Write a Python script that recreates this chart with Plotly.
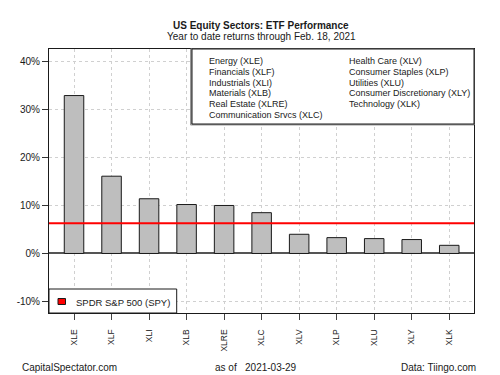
import plotly.graph_objects as go

tickers = ["XLE", "XLF", "XLI", "XLB", "XLRE", "XLC", "XLV", "XLP", "XLU", "XLY", "XLK"]
returns = [32.9, 16.1, 11.4, 10.2, 10.0, 8.5, 4.0, 3.3, 3.1, 2.9, 1.7]
spy_return = 6.3
y_ticks = [-10, 0, 10, 20, 30, 40]
y_tick_labels = ["-10%", "0%", "10%", "20%", "30%", "40%"]
legend_col1 = ["Energy (XLE)", "Financials (XLF)", "Industrials (XLI)", "Materials (XLB)",
               "Real Estate (XLRE)", "Communication Srvcs (XLC)"]
legend_col2 = ["Health Care (XLV)", "Consumer Staples (XLP)", "Utilities (XLU)",
               "Consumer Discretionary (XLY)", "Technology (XLK)"]

FONT = "Liberation Sans, Arial, sans-serif"
W, H = 500, 375
L, R, T, B = 49, 26, 49, 62
PW, PH = W - L - R, H - T - B

def px(x):
    return (x - L) / PW

def py(y):
    return (H - B - y) / PH

fig = go.Figure()
fig.add_trace(go.Bar(
    x=tickers, y=returns, width=0.52,
    marker=dict(color="#bebebe", line=dict(color="#1a1a1a", width=1)),
    showlegend=False, hoverinfo="skip",
))

shapes = []
shapes.append(dict(type="line", xref="paper", yref="y", x0=0, x1=1,
                   y0=spy_return, y1=spy_return, line=dict(color="#ff0000", width=2), layer="above"))
shapes.append(dict(type="rect", xref="paper", yref="paper", x0=px(190.5), x1=px(474), y0=py(125), y1=1,
                   line=dict(color="#999999", width=1), fillcolor="#999999", layer="above"))
shapes.append(dict(type="rect", xref="paper", yref="paper", x0=px(192), x1=1, y0=py(124), y1=1,
                   line=dict(color="#1a1a1a", width=1), fillcolor="white", layer="above"))
shapes.append(dict(type="rect", xref="paper", yref="paper", x0=0, x1=px(176.7), y0=0, y1=py(289),
                   line=dict(color="#1a1a1a", width=1), fillcolor="white", layer="above"))
shapes.append(dict(type="rect", xref="paper", yref="paper", x0=px(58), x1=px(65.5), y0=py(304.5), y1=py(298.5),
                   line=dict(color="#1a1a1a", width=1), fillcolor="#ff0000", layer="above"))

annotations = []
row_y = [61, 71.8, 82.6, 93.4, 104.2, 115]
for i, t in enumerate(legend_col1):
    annotations.append(dict(text=t, xref="paper", yref="paper", x=px(207), y=py(row_y[i]),
                            xanchor="left", yanchor="middle", showarrow=False,
                            font=dict(family=FONT, size=9, color="#1a1a1a")))
for i, t in enumerate(legend_col2):
    annotations.append(dict(text=t, xref="paper", yref="paper", x=px(346.5), y=py(row_y[i]),
                            xanchor="left", yanchor="middle", showarrow=False,
                            font=dict(family=FONT, size=9, color="#1a1a1a")))
annotations.append(dict(text="SPDR S&P 500 (SPY)", xref="paper", yref="paper", x=px(74), y=py(302.5),
                        xanchor="left", yanchor="middle", showarrow=False,
                        font=dict(family=FONT, size=9.5, color="#1a1a1a")))
annotations.append(dict(text="<b>US Equity Sectors: ETF Performance</b>", xref="paper", yref="paper",
                        x=px(261), y=py(25.7), xanchor="center", yanchor="middle", showarrow=False,
                        font=dict(family=FONT, size=10, color="#1a1a1a")))
annotations.append(dict(text="Year to date returns through Feb. 18, 2021", xref="paper", yref="paper",
                        x=px(261), y=py(36.7), xanchor="center", yanchor="middle", showarrow=False,
                        font=dict(family=FONT, size=10, color="#1a1a1a")))
annotations.append(dict(text="CapitalSpectator.com", xref="paper", yref="paper",
                        x=px(20), y=py(367.7), xanchor="left", yanchor="middle", showarrow=False,
                        font=dict(family=FONT, size=10, color="#1a1a1a")))
annotations.append(dict(text="as of   2021-03-29", xref="paper", yref="paper",
                        x=px(256), y=py(367.7), xanchor="center", yanchor="middle", showarrow=False,
                        font=dict(family=FONT, size=10, color="#1a1a1a")))
annotations.append(dict(text="Data: Tiingo.com", xref="paper", yref="paper",
                        x=px(478), y=py(367.7), xanchor="right", yanchor="middle", showarrow=False,
                        font=dict(family=FONT, size=10, color="#1a1a1a")))

fig.update_layout(
    width=W, height=H,
    margin=dict(l=L, r=R, t=T, b=B, pad=0),
    plot_bgcolor="white", paper_bgcolor="white",
    font=dict(family=FONT, size=10, color="#1a1a1a"),
    shapes=shapes, annotations=annotations,
    showlegend=False,
)
fig.update_xaxes(
    range=[-0.667, 10.66], type="category",
    showgrid=True, gridcolor="#d0d0d0", griddash="dot", gridwidth=1,
    showline=True, linecolor="#1a1a1a", linewidth=1, mirror=True,
    ticks="outside", ticklen=6, tickcolor="#444444",
    tickangle=-90, tickfont=dict(family=FONT, size=8.5, color="#1a1a1a"),
    ticklabelstandoff=6, automargin=False,
)
fig.update_yaxes(
    range=[-12.4, 42.6],
    tickvals=y_ticks, ticktext=y_tick_labels,
    showgrid=True, gridcolor="#d0d0d0", griddash="dot", gridwidth=1,
    zeroline=True, zerolinecolor="#555555", zerolinewidth=1.5,
    showline=True, linecolor="#1a1a1a", linewidth=1, mirror=True,
    ticks="outside", ticklen=6, tickcolor="#333333",
    tickfont=dict(family=FONT, size=10, color="#1a1a1a"),
    automargin=False,
)

fig.write_html("out.html", config={"displayModeBar": False},
               post_script="document.body.style.margin='0';document.body.style.overflow='hidden';")
